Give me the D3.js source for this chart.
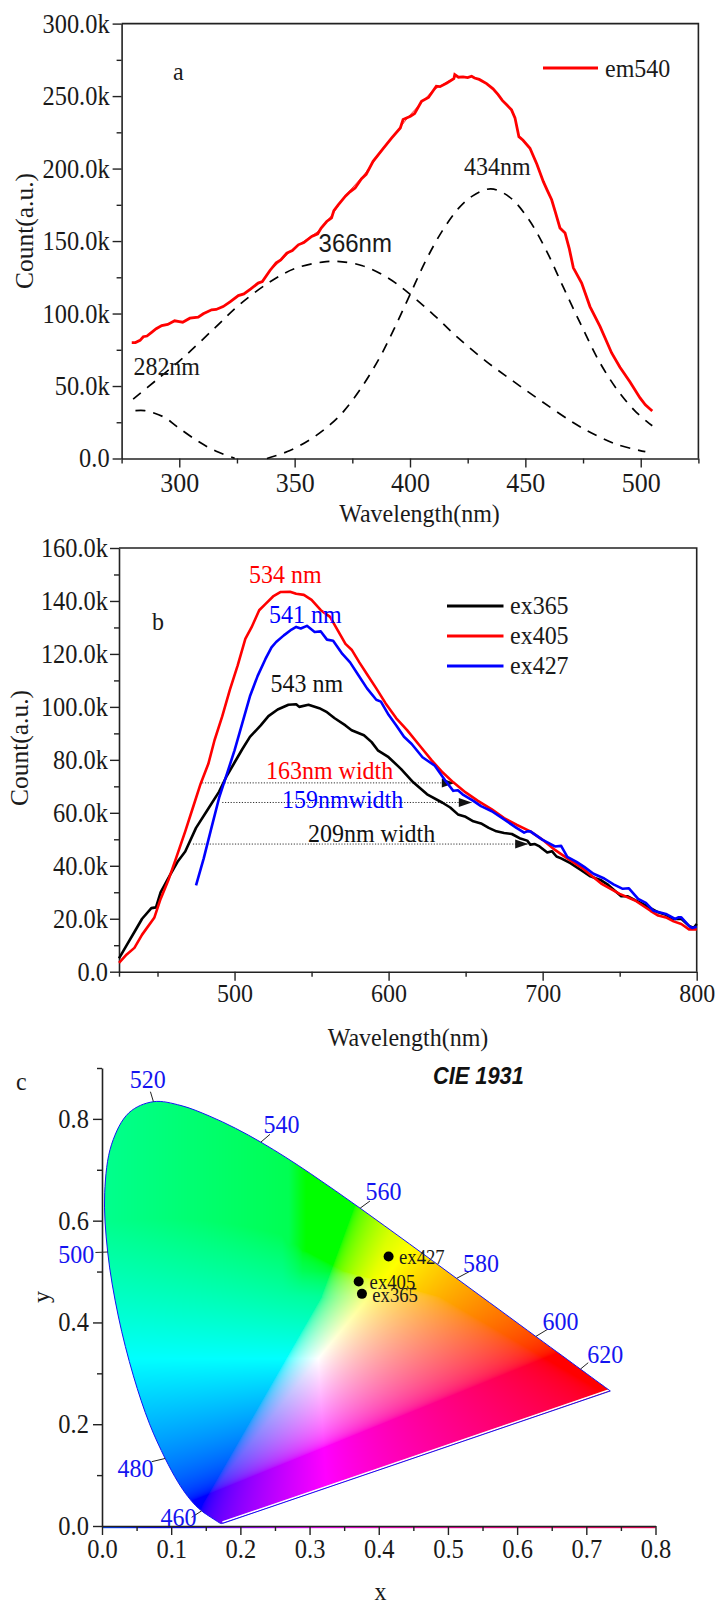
<!DOCTYPE html>
<html><head><meta charset="utf-8">
<script src="https://cdn.jsdelivr.net/npm/d3@7/dist/d3.min.js"></script>
<style>html,body{margin:0;padding:0;background:#fff}svg{display:block}text{font-family:"Liberation Serif",serif;fill:#1a1a1a}</style>
</head><body><svg id="c" width="718" height="1603"></svg>
<script>
// Panel a: [wavelength nm, count k]
const emWl=[279.4,281,283,284.4,286,288,290,292.4,295,298,300,301.5,304.6,308.2,310.4,314,316,319,322,325.6,328,331,334.2,336,339.3,342,344,346.6,349,351.6,354,357.4,360,361.5,363.9,366,367,368.9,372,374,376.2,379,381,384,388,392,395.8,397,400.2,402,405,408,411.4,413,416,419,419.4,421,423,425,426.7,428,430,433.2,436,438.2,440,441.9,444,445.5,447.2,449,452,455,457.8,459.5,461.4,463,465,467.2,469,470.8,474.4,478,482.4,487.4,491,495.3,499.7,502,505];
const emVal=[80,80,81.5,84,84.5,87,89.5,91.7,92.5,95,94.5,94,96.8,97.5,99.8,102.6,102.8,104.8,108,112.4,113.5,117,121,122,129.7,135,137,141.7,143.5,147.4,149,153.2,155,159,163.5,166,171,175,181,184,186.6,193,196,205,213,221,228,233.8,236,238,246.4,249,256.8,256.5,259,262,264.8,263,263.2,262.8,263.7,262.5,261.5,258.6,255,251,247,244,240.5,235,222,219.5,214,203,191,185,178.5,170,159,155.6,145,131.5,121,104.8,91,72.8,63,53,41.8,37,32.8];
const fitWl=[340,350,360,366,372,380,390,400,410,420];
const fitVal=[130.5,145.5,156.5,167.5,181.5,195.5,217,237,254,263.5];
const peak366Wl=[280,290,302,316,326,339,350,362,368.5,379.4,391,401,411,421,433,445,457,470.5,480,490,502];
const peak366Val=[41,54,70,91,106,121.5,131,135.5,136,133,124,112,98,83,67,53,39.5,25,16.5,9.5,4.7];
const peak282Wl=[281,285,289,294,299,308,316,324];
const peak282Val=[33,33,31.4,28,22,12,5,0.2];
const peak434Wl=[338,348,357.6,365.5,371.5,379.4,387,393,400,407,414,421,427,435,443,451,458.6,466.5,474.5,482,490,498,505];
const peak434Val=[0,5.5,14,23.5,33,50,70,89,113,137,157,172.5,181,186,180.5,166,145,118,91,67,47,32,22.6];
const aXMajor=[300,350,400,450,500], aXMinor=[275,325,375,425,475,525];
const aYMajor=[0,50,100,150,200,250,300], aYMinor=[25,75,125,175,225,275];

// Panel b
const ex365Wl=[425,430,435,440,446,449,452,458,463,468,475,482,490,495,500,505,510,517,522,528,535,540,542,548,555,560,565,572,576,584,589,593,600,608,616,625,635,640,645,650,655,660,665,670,675,680,685,690,692,695,698,703,706,709,712,718,725,731,738,742,748,751,755,760,765,770,775,780,785,790,795,798,800];
const ex365Val=[5,10,15,20,24,24.3,30,36.4,41.5,45.4,54.3,60.7,68,74,79,84,88.7,93,96.5,99,100.8,101,100,100.8,99.5,98,95.7,93,91.2,89.3,86.7,83.6,81,76.6,71.5,67,63.8,62,59.4,58.5,56.8,56,54.3,53,52.4,52,50.4,49.5,48,48.2,47.3,45,45.5,43.5,42.8,41,38.3,36,34.5,33,30,28.5,28.5,27,25.6,24,22.4,21.5,19.9,20,17.3,16.5,18];
const ex405Wl=[425,430,435,440,448,452,457,462,468,473,478,483,487,492,497,502,507,511,516,520,525,530,536,540,545,550,556,562,567,572,576,581,586,592,598,605,612,620,628,635,642,650,658,667,675,683,692,700,708,716,726,738,750,760,770,775,780,785,790,795,800];
const ex405Val=[3.3,6.5,9,14,20.5,27.5,34.5,42.8,53,62,71,78.5,87.4,96.4,106.5,115.6,125.7,130,136.5,138.8,141.7,143.4,143.5,142.7,142.3,140.4,136.5,134,128.9,123.8,121.6,116.8,112.3,107,101.4,95.7,91.2,85.5,79.8,75.3,71.5,67.7,64.5,61.3,58,55.5,53,49.8,46,42.8,39,33.3,29.4,26.9,23,21.2,20.5,19,18,16,16];
const ex427Wl=[475,480,485,490,495,500,505,510,515,520,524,527,532,537,540,543,547,552,556,560,564,570,575,580,586,592,595,600,605,610,615,622,630,637,642,645,648,655,660,667,675,683,688,690,692,700,708,712,716,722,727,733,740,746,752,756,762,767,772,780,786,788,790,795,797,800];
const ex427Val=[32.6,42.8,54.3,65.7,74.6,83.6,93.8,104,111.7,118,122.5,124.5,127,129.2,130.2,129.6,130.6,128.3,128.5,125.4,125,120,116.8,112.3,107,102.7,102,97,93,88.7,86,81,77.8,72,68.3,68.5,67,64.5,62.5,60.6,57.5,54.3,52.5,53,53,49.8,47.3,47.5,43.4,41.5,39.6,37,35.2,33,31.3,31.5,27.5,26,23,21.8,19.9,20.5,20.5,17.3,16.5,17];
const bXMajor=[500,600,700,800], bXMinor=[425,450,550,650,750];
const bYMajor=[0,20,40,60,80,100,120,140,160], bYMinor=[10,30,50,70,90,110,130,150];
const widthNames=["163nm width","159nmwidth","209nm width"];
const widthColors=["#f00","#00f","#111"];
const widthStart=[479,492,473], widthEnd=[643,654,690.6], widthLevel=[71.3,63.9,48.2];

// Panel c: spectral locus
const locusNm=[380,385,390,395,400,405,410,415,420,425,430,435,440,445,450,455,460,465,470,475,480,485,490,495,500,505,510,515,520,525,530,535,540,545,550,555,560,565,570,575,580,585,590,595,600,605,610,615,620,625,630,640,650,660,700];
const locusX=[.1741,.1740,.1738,.1736,.1733,.1730,.1726,.1721,.1714,.1703,.1689,.1669,.1644,.1611,.1566,.1510,.1440,.1355,.1241,.1096,.0913,.0687,.0454,.0235,.0082,.0039,.0139,.0389,.0743,.1142,.1547,.1929,.2296,.2658,.3016,.3373,.3731,.4087,.4441,.4788,.5125,.5448,.5752,.6029,.6270,.6482,.6658,.6801,.6915,.7006,.7079,.7190,.7260,.7300,.7347];
const locusY=[.0050,.0050,.0049,.0049,.0048,.0048,.0048,.0048,.0051,.0058,.0069,.0086,.0109,.0138,.0177,.0227,.0297,.0399,.0578,.0868,.1327,.2007,.2950,.4127,.5384,.6548,.7502,.8120,.8338,.8262,.8059,.7816,.7543,.7243,.6923,.6589,.6245,.5896,.5547,.5202,.4866,.4544,.4242,.3965,.3725,.3514,.3340,.3197,.3083,.2993,.2920,.2809,.2740,.2700,.2653];
const markNm=[460,480,500,520,540,560,580,600,620];
const markX=[.1296,.0718,-.0095,.0700,.2428,.3873,.5332,.6445,.7028];
const markY=[.0171,.1264,.5375,.8534,.7697,.6386,.5015,.3869,.3209];
const sampleNames=["ex427","ex405","ex365"];
const sampleX=[.4142,.371,.3757], sampleY=[.5297,.4805,.4562];
const cXMajor=[0,.1,.2,.3,.4,.5,.6,.7,.8], cXMinor=[.05,.15,.25,.35,.45,.55,.65,.75];
const cYMajor=[0,.2,.4,.6,.8], cYMinor=[.1,.3,.5,.7,.9];

const svg=d3.select("#c");
const ink="#222";
function zip(a,b){return a.map((v,i)=>[v,b[i]]);}
function text(g,s,x,y,size,fill,extra){
  const t=g.append("text").attr("x",x).attr("y",y).attr("font-size",size).text(s);
  if(fill)t.style("fill",fill);
  if(extra)extra(t);
  return t;
}
function axes(g,x,y,o){
  const xAll=o.xMajor.concat(o.xMinor), yAll=o.yMajor.concat(o.yMinor);
  const ax=g.append("g").attr("transform",`translate(0,${y.range()[0]})`)
    .call(d3.axisBottom(x).tickValues(xAll).tickSizeOuter(0).tickPadding(o.xPad).tickFormat(d=>o.xMajor.includes(d)?o.xFmt(d):""));
  ax.selectAll(".tick line").attr("y2",d=>o.xMajor.includes(d)?9:5).attr("stroke",ink).attr("stroke-width",1.4);
  ax.selectAll("text").attr("font-size",o.xSize).style("fill","#1a1a1a");
  ax.select(".domain").attr("stroke",ink).attr("stroke-width",o.axisW||1.6);
  const ay=g.append("g").attr("transform",`translate(${x.range()[0]},0)`)
    .call(d3.axisLeft(y).tickValues(yAll).tickSizeOuter(0).tickPadding(o.yPad).tickFormat(d=>o.yMajor.includes(d)?o.yFmt(d):""));
  ay.selectAll(".tick line").attr("x2",d=>o.yMajor.includes(d)?-9:-5).attr("stroke",ink).attr("stroke-width",1.4);
  ay.selectAll("text").attr("font-size",o.ySize).style("fill","#1a1a1a");
  ay.select(".domain").attr("stroke",ink).attr("stroke-width",o.axisW||1.6);
  ax.attr("font-family",null);ay.attr("font-family",null);
  if(o.frame){
    const [x0,x1]=x.range(),[y0,y1]=y.range();
    g.append("path").attr("d",`M${x0},${y1}H${x1}V${y0}`).attr("fill","none").attr("stroke",ink).attr("stroke-width",1.6);
  }
}
const kFmt=d=>d===0?"0.0":d.toFixed(1)+"k";

// ---------- a
{
  const g=svg.append("g");
  const x=d3.scaleLinear().domain([275,525]).range([121.6,698.4]);
  const y=d3.scaleLinear().domain([0,300]).range([458.5,23.6]);
  axes(g,x,y,{xMajor:aXMajor,xMinor:aXMinor,yMajor:aYMajor,yMinor:aYMinor,xFmt:d=>d,yFmt:kFmt,xSize:26,ySize:24.4,xPad:7,yPad:6,frame:true});
  const line=d3.line().x(d=>x(d[0])).y(d=>y(d[1]));
  [[peak282Wl,peak282Val],[peak366Wl,peak366Val],[peak434Wl,peak434Val]].forEach(p=>{
    g.append("path").attr("d",line.curve(d3.curveCatmullRom)(zip(p[0],p[1]))).attr("fill","none").attr("stroke","#000").attr("stroke-width",1.7).attr("stroke-dasharray","10,8");
  });
  line.curve(d3.curveLinear);
  g.append("path").attr("d",line(zip(fitWl,fitVal))).attr("fill","none").attr("stroke","#f00").attr("stroke-width",.8);
  g.append("path").attr("d",line(zip(emWl,emVal))).attr("fill","none").attr("stroke","#f00").attr("stroke-width",2.8);
  g.append("line").attr("x1",543).attr("x2",598).attr("y1",68).attr("y2",68).attr("stroke","#f00").attr("stroke-width",3);
  text(g,"em540",605,77,24);
  text(g,"a",173,80,24);
  text(g,"434nm",464,175,24);
  text(g,"366nm",318.6,252,24,null,t=>t.style("font-family","'Liberation Sans',sans-serif"));
  text(g,"282nm",133.4,375,24);
  text(g,"Wavelength(nm)",419.5,522,24,null,t=>t.attr("text-anchor","middle"));
  text(g,"Count(a.u.)",0,0,25.5,null,t=>t.attr("text-anchor","middle").attr("transform","translate(33,231) rotate(-90)"));
}
// ---------- b
{
  const g=svg.append("g");
  const x=d3.scaleLinear().domain([425,800]).range([119,696.7]);
  const y=d3.scaleLinear().domain([0,160]).range([971.7,548]);
  axes(g,x,y,{xMajor:bXMajor,xMinor:bXMinor,yMajor:bYMajor,yMinor:bYMinor,xFmt:d=>d,yFmt:kFmt,xSize:24,ySize:24.4,xPad:6,yPad:5,frame:true});
  const line=d3.line().x(d=>x(d[0])).y(d=>y(d[1]));
  widthLevel.forEach((v,i)=>{
    g.append("line").attr("x1",x(widthStart[i])).attr("x2",x(widthEnd[i])).attr("y1",y(v)).attr("y2",y(v)).attr("stroke","#333").attr("stroke-width",1).attr("stroke-dasharray","1.2,1.6");
    const ex=x(widthEnd[i]),ey=y(v);
    g.append("path").attr("d",d3.line()([[ex,ey],[ex-13,ey-4.5],[ex-13,ey+4.5]])+"Z").attr("fill","#111");
  });
  [[ex365Wl,ex365Val,"#000"],[ex405Wl,ex405Val,"#f00"],[ex427Wl,ex427Val,"#00f"]].forEach(s=>{
    g.append("path").attr("d",line(zip(s[0],s[1]))).attr("fill","none").attr("stroke",s[2]).attr("stroke-width",2.6).attr("stroke-linejoin","round");
  });
  [["ex365","#000",606,614],["ex405","#f00",636,643.7],["ex427","#00f",666,673.8]].forEach(l=>{
    g.append("line").attr("x1",447).attr("x2",503.5).attr("y1",l[2]).attr("y2",l[2]).attr("stroke",l[1]).attr("stroke-width",3);
    text(g,l[0],510,l[3],24);
  });
  text(g,"534 nm",249,583,24,"#f00");
  text(g,"541 nm",269,623,24,"#00f");
  text(g,"543 nm",270.5,692.4,24,"#111");
  text(g,"b",152,630,24);
  text(g,widthNames[0],266,778.7,24,widthColors[0]);
  text(g,widthNames[1],282,808,24,widthColors[1]);
  text(g,widthNames[2],308,842,24,widthColors[2]);
  text(g,"Wavelength(nm)",408,1046,24,null,t=>t.attr("text-anchor","middle"));
  text(g,"Count(a.u.)",0,0,25.5,null,t=>t.attr("text-anchor","middle").attr("transform","translate(28,748) rotate(-90)"));
}
// ---------- c
{
  const g=svg.append("g");
  const x=d3.scaleLinear().domain([0,.8]).range([102,655.5]);
  const y=d3.scaleLinear().domain([0,.9]).range([1526,1068]);
  const gam=v=>v<=.0031308?12.92*v:1.055*Math.pow(v,1/2.4)-.055;
  const rgb=(cx,cy)=>{
    const X=cx/cy,Z=(1-cx-cy)/cy;
    let r=3.2406*X-1.5372-.4986*Z,gg=-.9689*X+1.8758+.0415*Z,b=.0557*X-.204+1.057*Z;
    // reference's red-free edge sits further right than the sRGB one
    const xb=cy<.45?.1275+.422*cy:.317+.27*(cy-.45);
    r=Math.min(r,7.09*(cx-xb)/cy);
    if(cx>.26&&cy>.45) b-=.15*Math.min(1,(cx-.26)/.03)*Math.min(1,(cy-.45)/.05);
    r=Math.max(r,0);gg=Math.max(gg,0);b=Math.max(b,0);
    const m=Math.max(r,gg,b)||1;
    let B=gam(b/m)*255;
    if(r===0&&gg===m&&cx<.295){
      const floor=(80+(.28-cx)*220)*Math.min(1,(.295-cx)/.025);
      B=Math.max(B,floor);
    }
    return [gam(r/m)*255,gam(gg/m)*255,B];
  };
  const [px0,px1]=x.range(),[py0,py1]=y.range();
  const W=Math.ceil(px1-px0),H=Math.ceil(py0-py1);
  const cv=document.createElement("canvas");cv.width=W;cv.height=H;
  const ctx=cv.getContext("2d"),im=ctx.createImageData(W,H);
  for(let j=0;j<H;j++)for(let i=0;i<W;i++){
    const c=rgb(x.invert(px0+i+.5),y.invert(py1+j+.5)),k=(j*W+i)*4;
    im.data[k]=c[0];im.data[k+1]=c[1];im.data[k+2]=c[2];im.data[k+3]=255;
  }
  ctx.putImageData(im,0,0);
  const href=cv.toDataURL();
  const pts=zip(locusX,locusY);
  const outline=d3.line().x(d=>x(d[0])).y(d=>y(d[1])).curve(d3.curveCatmullRom);
  const closed=outline(pts)+"Z";
  const defs=svg.append("defs");
  defs.append("clipPath").attr("id","shoe").append("path").attr("d",closed);
  g.append("image").attr("href",href).attr("x",px0).attr("y",py1).attr("width",W).attr("height",H).attr("clip-path","url(#shoe)");
  // coloured strip along y = 0
  const grad=defs.append("linearGradient").attr("id","strip");
  d3.range(0,.801,.02).forEach(v=>{
    const c=rgb(Math.max(v,.001),.012);
    grad.append("stop").attr("offset",v/.8).attr("stop-color",d3.rgb(c[0],c[1],c[2]).formatHex());
  });
  g.append("rect").attr("x",px0).attr("y",py0).attr("width",px1-px0).attr("height",2.2).attr("fill","url(#strip)");
  const a=pts[0],b=pts[pts.length-1];
  g.append("line").attr("x1",x(a[0])).attr("y1",y(a[1])-1.4).attr("x2",x(b[0])).attr("y2",y(b[1])-1.4).attr("stroke","#fff").attr("stroke-width",1.6);
  g.append("path").attr("d",closed).attr("fill","none").attr("stroke","#1414f0").attr("stroke-width",1);
  markNm.forEach((nm,i)=>{
    const k=locusNm.indexOf(nm);
    g.append("line").attr("x1",x(locusX[k])).attr("y1",y(locusY[k])).attr("x2",x(markX[i])).attr("y2",y(markY[i])).attr("stroke","#222").attr("stroke-width",1);
  });
  const lab={460:[160.5,1525.6],480:[117.4,1476.5],500:[58.2,1263],520:[129.8,1088],540:[263.6,1133],560:[365.4,1200],580:[463,1271.5],600:[542.4,1329.5],620:[587.3,1362.7]};
  markNm.forEach(nm=>text(g,String(nm),lab[nm][0],lab[nm][1],24,"#1414f0"));
  axes(g,x,y,{xMajor:cXMajor,xMinor:cXMinor,yMajor:cYMajor,yMinor:cYMinor,xFmt:d=>d.toFixed(1),yFmt:d=>d.toFixed(1),xSize:24.5,ySize:24.5,xPad:7,yPad:7,frame:false});
  sampleNames.forEach((n,i)=>{
    g.append("circle").attr("cx",x(sampleX[i])).attr("cy",y(sampleY[i])).attr("r",5).attr("fill","#000");
  });
  text(g,"ex427",399,1263.8,18.7);
  text(g,"ex405",369.6,1289,18.7);
  text(g,"ex365",372.3,1301.6,18.7);
  text(g,"CIE 1931",433,1083.6,21.8,"#111",t=>t.style("font-family","'Liberation Sans',sans-serif").attr("font-weight","bold").attr("font-style","italic"));
  text(g,"c",16,1089.6,24);
  text(g,"x",380.5,1600,24,null,t=>t.attr("text-anchor","middle"));
  text(g,"y",0,0,24,null,t=>t.attr("text-anchor","middle").attr("transform","translate(49,1297) rotate(-90)"));
}
// The reference is stretched vertically: widen glyph height, keep glyph width.
const sx=.92;
svg.selectAll("text").each(function(){
  const t=d3.select(this);
  if(t.attr("transform")||!t.text())return;
  const fs=+t.attr("font-size");
  const px=+t.attr("x")||0, py=+t.attr("y")||0;
  t.attr("font-size",fs/sx).attr("x",null).attr("y",null)
   .attr("transform",`translate(${px},${py}) scale(${sx},1)`);
});
</script></body></html>
